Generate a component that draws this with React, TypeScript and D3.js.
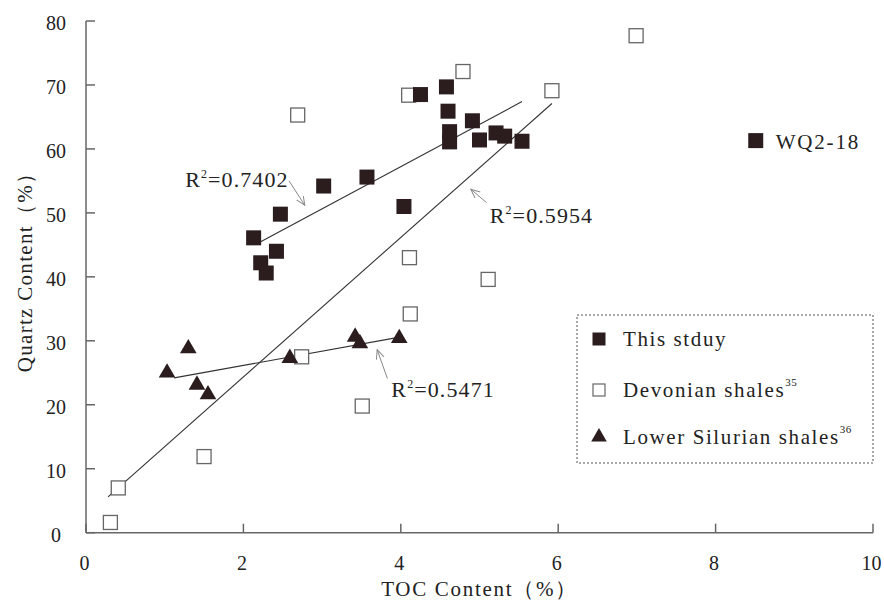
import * as d3 from "d3";

// This study (filled squares)
const studyToc = [2.13, 2.47, 2.42, 2.22, 2.29, 3.02, 3.57, 4.04, 4.25, 4.58, 4.6, 4.62, 4.62, 4.91, 5.0, 5.21, 5.32, 5.54, 8.51];
const studyQuartz = [46.1, 49.8, 44.0, 42.2, 40.6, 54.2, 55.6, 51.0, 68.5, 69.7, 65.9, 62.7, 61.1, 64.4, 61.4, 62.5, 62.0, 61.2, 61.3];
// Devonian shales (open squares)
const devToc = [0.31, 0.41, 1.5, 2.69, 2.74, 3.51, 4.1, 4.11, 4.12, 4.79, 5.11, 5.92, 6.99];
const devQuartz = [1.6, 7.0, 11.9, 65.3, 27.5, 19.8, 68.4, 43.0, 34.2, 72.1, 39.6, 69.1, 77.7];
// Lower Silurian shales (triangles)
const silToc = [1.03, 1.3, 1.41, 1.55, 2.59, 3.42, 3.48, 3.98];
const silQuartz = [25.0, 28.8, 23.1, 21.6, 27.3, 30.6, 29.6, 30.4];

// fitted trend lines, endpoints
const fitStudyToc = [2.19, 5.54];
const fitStudyQuartz = [45.3, 67.4];
const fitDevToc = [0.28, 5.92];
const fitDevQuartz = [5.6, 67.1];
const fitSilToc = [1.12, 3.95];
const fitSilQuartz = [24.2, 30.5];

const xTicks = [0, 2, 4, 6, 8, 10];
const yTicks = [0, 10, 20, 30, 40, 50, 60, 70, 80];

const r2Labels = ["0.7402", "0.5954", "0.5471"];
const r2TextToc = [1.26, 5.13, 3.88];
const r2TextQuartz = [54.0, 48.4, 21.2];
const r2ArrowFrom = [[2.58, 55.0], [5.09, 51.6], [3.83, 24.1]];
const r2ArrowTo = [[2.78, 51.2], [4.89, 53.7], [3.7, 28.6]];

const legendLabels = ["This stduy", "Devonian shales", "Lower Silurian shales"];
const legendSups = ["", "35", "36"];

const W = 884;
const H = 601;
const font = "'Liberation Serif', 'Times New Roman', serif";
const ink = "#2b1d1d";
const axisColor = "#666";

export default function App() {
  const x = d3.scaleLinear().domain([0, 10]).range([86, 873]);
  const y = d3.scaleLinear().domain([0, 80]).range([532.7, 21]);
  const tri = d3.symbol().type(d3.symbolTriangle).size(120)() || "";
  const triSmall = d3.symbol().type(d3.symbolTriangle).size(105)() || "";
  const line = d3.line<[number, number]>().x((d) => x(d[0])).y((d) => y(d[1]));
  const fits = [
    [fitStudyToc, fitStudyQuartz],
    [fitDevToc, fitDevQuartz],
    [fitSilToc, fitSilQuartz],
  ];
  const legendX = 599;
  const legendY = [339, 390, 437];

  return (
    <svg width={W} height={H} style={{ position: "absolute", left: 0, top: 0, background: "#fff" }} fontFamily={font}>
      <defs>
        <marker id="arr" markerWidth={10} markerHeight={10} refX={9} refY={4} orient="auto" markerUnits="userSpaceOnUse">
          <path d="M0,0 L9,4 L0,8" fill="none" stroke="#888" strokeWidth={1} />
        </marker>
      </defs>

      {/* axes */}
      <g stroke={axisColor} strokeWidth={1.5} fill="none">
        <line x1={x(0)} x2={x(0)} y1={y(80)} y2={y(0)} />
        <line x1={x(0)} x2={x(10)} y1={y(0)} y2={y(0)} />
        {yTicks.map((t) => (
          <line key={"yt" + t} x1={x(0)} x2={x(0) + 9} y1={y(t)} y2={y(t)} />
        ))}
        {xTicks.map((t) => (
          <line key={"xt" + t} x1={x(t)} x2={x(t)} y1={y(0)} y2={y(0) - 9} />
        ))}
      </g>
      <g fontSize={20} fill="#222" textAnchor="middle">
        {yTicks.map((t) => (
          <text key={"yl" + t} x={56} y={y(t) + 9}>{t}</text>
        ))}
        {xTicks.map((t) => (
          <text key={"xl" + t} x={x(t) - 1.5} y={570}>{t}</text>
        ))}
      </g>
      <text x={(x(0) + x(10)) / 2} y={596} fontSize={21} textAnchor="middle" fill="#222" letterSpacing={1.7}>
        TOC Content（%）
      </text>
      <text transform={`translate(32, 267) rotate(-90)`} fontSize={21} textAnchor="middle" fill="#222" letterSpacing={1.3}>
        Quartz Content（%）
      </text>

      {/* trend lines */}
      <g stroke="#333" strokeWidth={1.1} fill="none">
        {fits.map(([tx, qy], i) => (
          <path key={"fit" + i} d={line(tx.map((v, j) => [v, qy[j]] as [number, number])) || ""} />
        ))}
      </g>

      {/* Devonian open squares */}
      <g fill="#fff" stroke="#666" strokeWidth={1.3}>
        {devToc.map((v, i) => (
          <rect key={"d" + i} x={x(v) - 7} y={y(devQuartz[i]) - 7} width={14} height={14} />
        ))}
      </g>
      {/* This study filled squares */}
      <g fill={ink}>
        {studyToc.map((v, i) => (
          <rect key={"s" + i} x={x(v) - 7.5} y={y(studyQuartz[i]) - 7.5} width={15} height={15} />
        ))}
      </g>
      {/* Lower Silurian triangles */}
      <g fill={ink}>
        {silToc.map((v, i) => (
          <path key={"t" + i} d={tri} transform={`translate(${x(v)},${y(silQuartz[i])})`} />
        ))}
      </g>

      <text x={x(8.51) + 20} y={y(61.3) + 8} fontSize={21} fill="#222" letterSpacing={1.8}>WQ2-18</text>

      {/* R² annotations */}
      {r2Labels.map((lab, i) => (
        <g key={"r2" + i}>
          <line
            x1={x(r2ArrowFrom[i][0])}
            y1={y(r2ArrowFrom[i][1])}
            x2={x(r2ArrowTo[i][0])}
            y2={y(r2ArrowTo[i][1])}
            stroke="#888"
            strokeWidth={1}
            markerEnd="url(#arr)"
          />
          <text x={x(r2TextToc[i])} y={y(r2TextQuartz[i])} fontSize={22} fill="#222" letterSpacing={1.1}>
            R<tspan fontSize={12} dy={-9}>2</tspan>
            <tspan dy={9}>={lab}</tspan>
          </text>
        </g>
      ))}

      {/* legend */}
      <rect x={577} y={315} width={296} height={148} fill="none" stroke="#555" strokeWidth={1} strokeDasharray="2,2" />
      <rect x={legendX - 6.5} y={legendY[0] - 6.5} width={13} height={13} fill={ink} />
      <rect x={legendX - 6} y={legendY[1] - 6} width={12} height={12} fill="#fff" stroke="#666" strokeWidth={1.2} />
      <path d={triSmall} transform={`translate(${legendX},${legendY[2]})`} fill={ink} />
      {legendLabels.map((lab, i) => (
        <text key={"lg" + i} x={623} y={legendY[i] + 7} fontSize={21} fill="#222" letterSpacing={1.6}>
          {lab}
          {legendSups[i] && (
            <tspan fontSize={11} dy={-11} letterSpacing={0.5}>{legendSups[i]}</tspan>
          )}
        </text>
      ))}
    </svg>
  );
}
